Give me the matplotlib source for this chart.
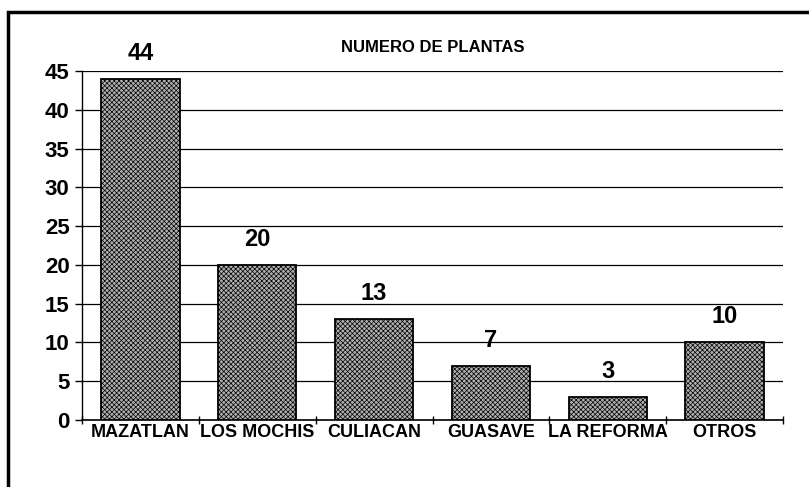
import matplotlib.pyplot as plt
from matplotlib.patches import Rectangle
import numpy as np

# data
ciudades = ["MAZATLAN", "LOS MOCHIS", "CULIACAN", "GUASAVE", "LA REFORMA", "OTROS"]
plantas = [44, 20, 13, 7, 3, 10]
y_ticks = [0, 5, 10, 15, 20, 25, 30, 35, 40, 45]

plt.rcParams['font.family'] = ['Liberation Sans', 'DejaVu Sans']
plt.rcParams['hatch.color'] = '#222222'
plt.rcParams['hatch.linewidth'] = 0.5

fig = plt.figure(figsize=(8.09, 4.87), dpi=100)
ax = fig.add_axes([82 / 809, 1 - 420 / 487, 701 / 809, 349 / 487])

# outer frame of the picture
fig.patches.append(Rectangle((8 / 809, -0.05), 1.1, 1 - 12 / 487 + 0.05,
                             transform=fig.transFigure, fill=False,
                             edgecolor='black', linewidth=2.5))

x = np.arange(len(ciudades))
bars = ax.bar(x, plantas, width=0.67, color='#b0b0b0', edgecolor='black',
              linewidth=1.3, hatch='xxxxxxx', zorder=3)

for xi, v in zip(x, plantas):
    ax.text(xi, v + 1.8, str(v), ha='center', va='bottom',
            fontsize=17, fontweight='bold', zorder=4)

ax.set_xlim(-0.5, len(ciudades) - 0.5)
ax.set_ylim(0, 45)
ax.set_yticks(y_ticks)
ax.set_yticklabels([str(t) for t in y_ticks], fontsize=16, fontweight='bold')
ax.yaxis.grid(True, color='black', linewidth=0.9, zorder=0)
ax.set_axisbelow(True)

# category labels centred, tick marks between categories
ax.set_xticks(x)
ax.set_xticklabels(ciudades, fontsize=13, fontweight='bold')
ax.tick_params(axis='x', length=0, pad=3)
ax.set_xticks(np.arange(len(ciudades) + 1) - 0.5, minor=True)
ax.tick_params(axis='x', which='minor', direction='inout', length=6, width=1)
ax.tick_params(axis='y', direction='out', length=5, width=1, pad=4)

for side in ['top', 'right']:
    ax.spines[side].set_visible(False)
ax.spines['left'].set_linewidth(1)
ax.spines['bottom'].set_linewidth(1.2)

ax.set_title("NUMERO DE PLANTAS", fontsize=12, fontweight='bold', pad=14)

fig.savefig("out.png", dpi=100)
